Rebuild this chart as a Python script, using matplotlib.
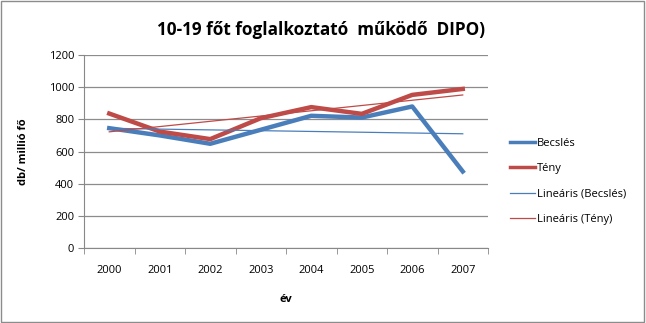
import numpy as np
import matplotlib
matplotlib.use("Agg")
import matplotlib.pyplot as plt
from matplotlib.patches import Rectangle

plt.rcParams['font.family'] = ['Open Sans', 'DejaVu Sans']

years = ['2000', '2001', '2002', '2003', '2004', '2005', '2006', '2007']
becsles = [745, 700, 648, 735, 822, 811, 880, 476]
teny = [836, 724, 677, 807, 876, 834, 952, 989]
yticks = [0, 200, 400, 600, 800, 1000, 1200]

blue = '#4a7ebb'
red = '#be4b48'

fig = plt.figure(figsize=(6.46, 3.23), dpi=100)
ax = fig.add_axes([84/646, 1 - 248/323, (488-84)/646, (248-55)/323])

x = np.arange(len(years))
ax.plot(x, becsles, color=blue, lw=3.2, label='Becslés', solid_joinstyle='round')
ax.plot(x, teny, color=red, lw=3.2, label='Tény', solid_joinstyle='round')

kb = np.polyfit(x, becsles, 1)
kt = np.polyfit(x, teny, 1)
ax.plot(x, np.polyval(kb, x), color=blue, lw=0.9, label='Lineáris (Becslés)')
ax.plot(x, np.polyval(kt, x), color=red, lw=0.9, label='Lineáris (Tény)')

ax.set_xlim(-0.5, len(years) - 0.5)
ax.set_ylim(0, 1200)
ax.set_yticks(yticks)
ax.set_yticklabels([str(v) for v in yticks], fontsize=8)
ax.set_xticks(x)
ax.set_xticklabels(years, fontsize=8)
ax.set_xticks(np.arange(-0.5, len(years)), minor=True)
ax.tick_params(axis='x', which='major', length=0, pad=12)
ax.tick_params(axis='x', which='minor', length=4, color='#888888')
ax.tick_params(axis='y', length=4, color='#888888', pad=3)
ax.grid(axis='y', color='#8c8c8c', lw=0.9)
ax.set_axisbelow(True)
for s in ['top', 'right']:
    ax.spines[s].set_visible(False)
for s in ['left', 'bottom']:
    ax.spines[s].set_color('#888888')

ax.set_ylabel('db/ millió fő', fontsize=8, fontweight='bold', labelpad=14)
ax.set_xlabel('év', fontsize=8, fontweight='bold', labelpad=13)

fig.text(321/646, 1 - 30/323, '10-19 főt foglalkoztató  működő  DIPO)',
         ha='center', va='center', fontsize=12.3, fontweight='bold')

leg = ax.legend(loc='center left', bbox_to_anchor=(1.03, 0.345), frameon=False,
                fontsize=8, handlelength=2.2, labelspacing=1.3, handletextpad=0.2)
for h, w in zip(leg.get_lines(), [2.5, 2.5, 0.9, 0.9]):
    h.set_linewidth(w)

fig.patches.append(Rectangle((0.002, 0.003), 0.995, 0.993, transform=fig.transFigure,
                             fill=False, edgecolor='#8c8c8c', lw=1))

fig.savefig('out.png', dpi=100)
